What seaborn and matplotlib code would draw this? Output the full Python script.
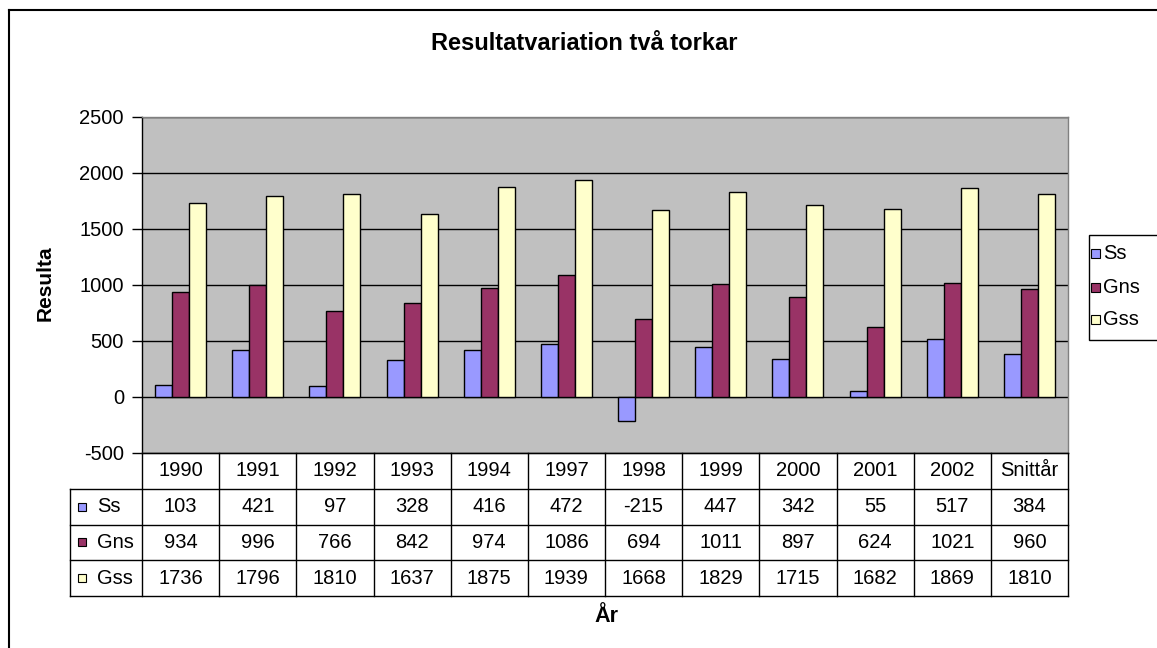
import matplotlib
matplotlib.use("Agg")
import matplotlib.pyplot as plt
import seaborn as sns
import pandas as pd
from matplotlib.patches import Rectangle
from matplotlib.lines import Line2D

# ---- data ----
years = ["1990", "1991", "1992", "1993", "1994", "1997", "1998", "1999",
         "2000", "2001", "2002", "Snittår"]
series_names = ["Ss", "Gns", "Gss"]
ss = [103, 421, 97, 328, 416, 472, -215, 447, 342, 55, 517, 384]
gns = [934, 996, 766, 842, 974, 1086, 694, 1011, 897, 624, 1021, 960]
gss = [1736, 1796, 1810, 1637, 1875, 1939, 1668, 1829, 1715, 1682, 1869, 1810]
colors = ["#9999FF", "#993366", "#FFFFCC"]
yticks = [-500, 0, 500, 1000, 1500, 2000, 2500]

series_values = [ss, gns, gss]
df = pd.DataFrame({
    "År": years * 3,
    "Resultat": ss + gns + gss,
    "Serie": sum([[n] * len(years) for n in series_names], []),
})

plt.rcParams["font.family"] = ["Liberation Sans", "DejaVu Sans"]
plt.rcParams["axes.unicode_minus"] = False

W, H = 1157, 648
fig = plt.figure(figsize=(W / 100, H / 100), dpi=100)


def fx(px):
    return px / W


def fy(py):
    return 1 - py / H


fs = 14.5

# main plot area
pl, pr, pt, pb = 142, 1068, 117, 453
ax = fig.add_axes([fx(pl), fy(pb), fx(pr - pl), (pb - pt) / H])
ax.set_facecolor("#C0C0C0")
sns.barplot(data=df, x="År", y="Resultat", hue="Serie", order=years,
            hue_order=series_names, palette=colors, saturation=1,
            width=0.66, edgecolor="black", linewidth=1, errorbar=None,
            legend=False, ax=ax)
ax.set_xlim(-0.5, len(years) - 0.5)
ax.set_ylim(yticks[0], yticks[-1])
ax.set_yticks(yticks)
ax.set_yticklabels([str(t) for t in yticks], fontsize=fs)
ax.tick_params(axis="y", length=7, width=1, color="black", pad=6)
ax.set_xticks([])
ax.set_xlabel("")
ax.set_ylabel("")
ax.set_axisbelow(True)
ax.yaxis.grid(True, color="black", linewidth=1)
ax.xaxis.grid(False)
for s in ["top", "right", "bottom"]:
    ax.spines[s].set_color("#808080")
    ax.spines[s].set_linewidth(1)
ax.spines["left"].set_color("black")
ax.spines["left"].set_linewidth(1)

# data table
tl, tb = 70, 596
tax = fig.add_axes([fx(tl), fy(tb), fx(pr - tl), (tb - pb) / H])
col_w = (pr - pl) / len(years)
lab_w = (pl - tl) / col_w
x0 = -0.5 - lab_w
x1 = len(years) - 0.5
tax.set_xlim(x0, x1)
tax.set_ylim(4, 0)
tax.axis("off")
lc = "black"
lw = 1
tax.plot([-0.5, x1], [0, 0], color=lc, lw=lw, clip_on=False)
for r in range(1, 5):
    tax.plot([x0, x1], [r, r], color=lc, lw=lw, clip_on=False)
for i in range(len(years) + 1):
    tax.plot([-0.5 + i, -0.5 + i], [0, 4], color=lc, lw=lw, clip_on=False)
tax.plot([x0, x0], [1, 4], color=lc, lw=lw, clip_on=False)

for i, yv in enumerate(years):
    tax.text(i, 0.5, yv, ha="center", va="center", fontsize=fs)
for r, (name, vals, c) in enumerate(zip(series_names, series_values, colors)):
    yrow = r + 1.5
    tax.plot([x0 + 12 / col_w], [yrow], marker="s", markersize=6.3,
             markerfacecolor=c, markeredgecolor="black", markeredgewidth=0.8,
             clip_on=False)
    tax.text(x0 + 27 / col_w, yrow, name, ha="left", va="center", fontsize=fs)
    for i, v in enumerate(vals):
        tax.text(i, yrow, str(v), ha="center", va="center", fontsize=fs)

# legend (drawn as a boxed key at the right)
fig.add_artist(Rectangle((fx(1089), fy(340)), fx(1170 - 1089), (340 - 235) / H,
                         transform=fig.transFigure, facecolor="white",
                         edgecolor="black", linewidth=1))
for name, c, yc in zip(series_names, colors, [253, 287, 319]):
    fig.add_artist(Rectangle((fx(1091), fy(yc + 4.5)), fx(9), 9 / H,
                             transform=fig.transFigure, facecolor=c,
                             edgecolor="black", linewidth=0.8))
    fig.text(fx(1103), fy(yc), name, ha="left", va="center", fontsize=fs)

# texts
fig.text(fx(584), fy(44), "Resultatvariation två torkar", ha="center",
         va="center", fontsize=17, fontweight="bold")
fig.text(fx(45), fy(283), "Resulta", rotation=90, ha="center", va="center",
         fontsize=15, fontweight="bold")
fig.text(fx(606), fy(616), "År", ha="center", va="center", fontsize=15.5,
         fontweight="bold")

# outer chart frame (left and top edges visible)
fig.add_artist(Line2D([fx(9), fx(9)], [fy(10), 0], color="black", lw=1.5,
                      transform=fig.transFigure))
fig.add_artist(Line2D([fx(9), 1], [fy(10), fy(10)], color="black", lw=1.5,
                      transform=fig.transFigure))

fig.savefig("out.png", dpi=100)
